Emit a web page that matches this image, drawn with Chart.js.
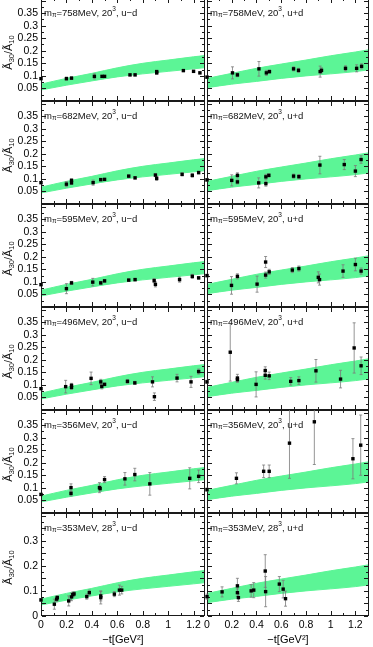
<!doctype html>
<html lang="en">
<head>
<meta charset="UTF-8" />
<title>A30/A10 vs -t</title>
<script src="https://cdn.jsdelivr.net/npm/chart.js"></script>
<style>
  html, body { margin: 0; padding: 0; background: #fff; }
  #fig { position: relative; width: 373px; height: 647px; overflow: hidden; }
  #fig canvas { position: absolute; }
</style>
</head>
<body>
<div id="fig"></div>
<script>
const FONT = "'Liberation Sans', Arial, Helvetica, sans-serif"
const GREEN = 'rgb(92, 245, 150)'

// panel labels, top to bottom
const masses = ['758', '682', '595', '496', '356', '353']
const volumes = ['20', '20', '20', '20', '20', '28']
const flavors = ['u\u2212d', 'u+d']

const bandT = [0, 0.2, 0.4, 0.6, 0.8, 1.0, 1.2, 1.31]
const bandUdLow = [0.044, 0.063, 0.08, 0.096, 0.108, 0.118, 0.128, 0.134]
const bandUdHigh = [0.067, 0.09, 0.11, 0.132, 0.15, 0.163, 0.176, 0.182]
const bandUpdLow = [0.053, 0.067, 0.078, 0.09, 0.1, 0.108, 0.117, 0.124]
const bandUpdHigh = [0.09, 0.11, 0.13, 0.147, 0.163, 0.18, 0.195, 0.204]

// lattice points: T = -t [GeV^2], R = ratio, E = error
const ud758T = [0, 0.2, 0.24, 0.42, 0.48, 0.5, 0.7, 0.74, 0.91, 0.91, 1.12, 1.2, 1.25]
const ud758R = [0.089, 0.089, 0.091, 0.098, 0.098, 0.098, 0.104, 0.104, 0.117, 0.112, 0.121, 0.118, 0.112]
const ud758E = [0.004, 0.006, 0.005, 0.01, 0.004, 0.004, 0.004, 0.004, 0.005, 0.005, 0.004, 0.004, 0.004]
const upd758T = [0, 0.206, 0.246, 0.42, 0.48, 0.505, 0.7, 0.74, 0.915, 0.926, 1.12, 1.21, 1.25]
const upd758R = [0.095, 0.112, 0.104, 0.128, 0.112, 0.117, 0.128, 0.122, 0.117, 0.122, 0.13, 0.13, 0.138]
const upd758E = [0.004, 0.024, 0.007, 0.029, 0.01, 0.006, 0.008, 0.008, 0.022, 0.01, 0.01, 0.014, 0.01]

const ud682T = [0, 0.2, 0.24, 0.24, 0.41, 0.47, 0.5, 0.69, 0.74, 0.9, 0.91, 1.11, 1.19, 1.24]
const ud682R = [0.085, 0.079, 0.094, 0.084, 0.085, 0.097, 0.098, 0.111, 0.104, 0.115, 0.102, 0.118, 0.114, 0.125]
const ud682E = [0.004, 0.01, 0.006, 0.006, 0.01, 0.005, 0.004, 0.004, 0.004, 0.006, 0.008, 0.006, 0.007, 0.005]
const upd682T = [0, 0.2, 0.246, 0.246, 0.418, 0.476, 0.476, 0.5, 0.7, 0.743, 0.913, 1.11, 1.2, 1.246]
const upd682R = [0.096, 0.094, 0.114, 0.088, 0.084, 0.108, 0.081, 0.114, 0.111, 0.109, 0.155, 0.157, 0.131, 0.177]
const upd682E = [0.005, 0.022, 0.01, 0.008, 0.02, 0.01, 0.01, 0.006, 0.008, 0.008, 0.035, 0.02, 0.022, 0.015]

const ud595T = [0, 0.2, 0.24, 0.407, 0.47, 0.5, 0.69, 0.74, 0.89, 0.9, 1.09, 1.19, 1.24]
const ud595R = [0.089, 0.073, 0.096, 0.099, 0.096, 0.104, 0.107, 0.109, 0.105, 0.09, 0.109, 0.122, 0.116]
const ud595E = [0.004, 0.02, 0.006, 0.015, 0.006, 0.005, 0.005, 0.005, 0.008, 0.01, 0.01, 0.008, 0.005]
const upd595T = [0, 0.198, 0.246, 0.405, 0.474, 0.474, 0.503, 0.69, 0.743, 0.9, 0.91, 1.1, 1.2, 1.246]
const upd595R = [0.125, 0.086, 0.122, 0.091, 0.179, 0.127, 0.14, 0.147, 0.153, 0.118, 0.109, 0.143, 0.169, 0.143]
const upd595E = [0.005, 0.035, 0.01, 0.032, 0.022, 0.012, 0.01, 0.01, 0.01, 0.022, 0.022, 0.025, 0.025, 0.012]

const ud496T = [0, 0.194, 0.24, 0.24, 0.394, 0.47, 0.478, 0.5, 0.68, 0.738, 0.877, 0.892, 1.07, 1.18, 1.24]
const ud496R = [0.085, 0.093, 0.098, 0.09, 0.126, 0.112, 0.094, 0.102, 0.114, 0.108, 0.112, 0.053, 0.127, 0.112, 0.153]
const ud496E = [0.004, 0.025, 0.008, 0.008, 0.025, 0.01, 0.01, 0.005, 0.007, 0.006, 0.02, 0.015, 0.015, 0.022, 0.01]
const upd496T = [0, 0.188, 0.246, 0.246, 0.397, 0.471, 0.471, 0.503, 0.677, 0.743, 0.881, 1.08, 1.19, 1.246]
const upd496R = [0.112, 0.23, 0.127, 0.121, 0.102, 0.157, 0.138, 0.136, 0.114, 0.117, 0.156, 0.123, 0.247, 0.176]
const upd496E = [0.006, 0.115, 0.015, 0.01, 0.05, 0.015, 0.015, 0.015, 0.015, 0.015, 0.045, 0.035, 0.1, 0.035]

const ud356T = [0, 0.236, 0.236, 0.46, 0.465, 0.5, 0.66, 0.738, 0.856, 1.17, 1.24]
const ud356R = [0.074, 0.101, 0.078, 0.101, 0.097, 0.133, 0.136, 0.153, 0.116, 0.138, 0.146]
const ud356E = [0.004, 0.015, 0.01, 0.02, 0.01, 0.012, 0.025, 0.025, 0.045, 0.042, 0.025]
const upd356T = [0, 0.238, 0.458, 0.503, 0.667, 0.868, 1.18, 1.243]
const upd356R = [0.093, 0.138, 0.166, 0.166, 0.278, 0.363, 0.216, 0.27]
const upd356E = [0.006, 0.022, 0.025, 0.025, 0.14, 0.17, 0.08, 0.12]

const ud353T = [0, 0.105, 0.123, 0.128, 0.218, 0.24, 0.25, 0.26, 0.36, 0.38, 0.47, 0.47, 0.577, 0.617, 0.635]
const ud353R = [0.064, 0.047, 0.067, 0.073, 0.06, 0.076, 0.085, 0.088, 0.077, 0.093, 0.073, 0.08, 0.087, 0.103, 0.103]
const ud353E = [0.005, 0.02, 0.01, 0.008, 0.02, 0.015, 0.01, 0.008, 0.01, 0.01, 0.025, 0.02, 0.01, 0.02, 0.015]
const upd353T = [0, 0.122, 0.246, 0.246, 0.254, 0.357, 0.378, 0.471, 0.474, 0.585, 0.616, 0.635]
const upd353R = [0.077, 0.096, 0.12, 0.093, 0.073, 0.1, 0.103, 0.179, 0.097, 0.127, 0.107, 0.069]
const upd353E = [0.01, 0.02, 0.03, 0.015, 0.015, 0.025, 0.03, 0.065, 0.06, 0.03, 0.035, 0.03]

const rows = [
	[[ud758T, ud758R, ud758E], [upd758T, upd758R, upd758E]],
	[[ud682T, ud682R, ud682E], [upd682T, upd682R, upd682E]],
	[[ud595T, ud595R, ud595E], [upd595T, upd595R, upd595E]],
	[[ud496T, ud496R, ud496E], [upd496T, upd496R, upd496E]],
	[[ud356T, ud356R, ud356E], [upd356T, upd356R, upd356E]],
	[[ud353T, ud353R, ud353E], [upd353T, upd353R, upd353E]]
]

// page layout (px)
const rowBottoms = [101, 204, 307, 410, 513, 616]
const ROW_H = 103
const PAD = 12

Chart.defaults.font.family = FONT
Chart.defaults.color = '#000'

const fig = document.getElementById('fig')

// frame, inward ticks and error bars go between the band and the points
function decor(row, col, pts) {
	const [ts, rs, es] = pts
	return {
		id: 'decor',
		beforeDatasetDraw(chart, args) {
			if (args.index !== 0) return
			const { ctx, chartArea: a, scales: { x, y } } = chart
			const L = Math.round(a.left), R = Math.round(a.right) - 1
			const T = Math.round(a.top), B = Math.round(a.bottom) - 1
			ctx.save()
			ctx.fillStyle = '#1a1a1a'
			ctx.fillRect(L, T, R - L + 1, 1)
			ctx.fillRect(L, B, R - L + 1, 1)
			ctx.fillRect(L, T, 1, B - T + 1)
			ctx.fillRect(R, T, 1, B - T + 1)
			for (let i = 0; i * 0.1 <= x.max + 1e-9; i++) {
				const px = Math.round(x.getPixelForValue(i * 0.1))
				const len = i % 2 === 0 ? 4 : 2
				ctx.fillRect(px, B - len, 1, len)
				ctx.fillRect(px, T + 1, 1, len)
			}
			for (let j = 0; j * 0.025 <= y.max + 1e-9; j++) {
				const py = Math.round(y.getPixelForValue(j * 0.025))
				const len = j % 2 === 0 ? 4 : 2
				ctx.fillRect(L + 1, py, len, 1)
				ctx.fillRect(R - len, py, len, 1)
			}

			ctx.beginPath()
			ctx.rect(a.left - 4, a.top, a.right - a.left + 8, a.bottom - a.top)
			ctx.clip()
			ctx.strokeStyle = '#7a7a7a'
			ctx.lineWidth = 0.8
			ctx.beginPath()
			ts.forEach((t, i) => {
				const px = x.getPixelForValue(t)
				const lo = y.getPixelForValue(rs[i] - es[i])
				const hi = y.getPixelForValue(rs[i] + es[i])
				ctx.moveTo(px, lo); ctx.lineTo(px, hi)
				ctx.moveTo(px - 1.5, lo); ctx.lineTo(px + 1.5, lo)
				ctx.moveTo(px - 1.5, hi); ctx.lineTo(px + 1.5, hi)
			})
			ctx.stroke()
			ctx.restore()
		},
		afterDraw(chart) {
			const { ctx, chartArea: a, scales: { y } } = chart
			ctx.save()
			// panel label
			ctx.fillStyle = '#111'
			ctx.textBaseline = 'middle'
			let tx = a.left + 3
			const ty = y.getPixelForValue(0.35)
			const parts = [
				['m', 9.5, 0], ['\u03c0', 6.5, 2],
				['=' + masses[row] + 'MeV, ' + volumes[row], 9.5, 0], ['3', 6.5, -3.5],
				[', ' + flavors[col], 9.5, 0]
			]
			parts.forEach(([s, size, dy]) => {
				ctx.font = size + 'px ' + FONT
				ctx.fillText(s, tx, ty + dy)
				tx += ctx.measureText(s).width
			})

			// y axis title, left column only
			if (col === 0) {
				const yt = [['\u00c3', 11, 0], ['30', 7.5, 2.5], ['/\u00c3', 11, 0], ['10', 7.5, 2.5]]
				ctx.translate(9, (a.top + a.bottom) / 2 + 3)
				ctx.rotate(-Math.PI / 2)
				let w = 0
				yt.forEach(([s, size]) => { ctx.font = size + 'px ' + FONT; w += ctx.measureText(s).width })
				let ox = -w / 2
				yt.forEach(([s, size, dy]) => {
					ctx.font = size + 'px ' + FONT
					ctx.fillText(s, ox, dy)
					ox += ctx.measureText(s).width
				})
			}
			ctx.restore()
		}
	}
}

function makePanel(row, col) {
	const isLeft = col === 0
	const isBottom = row === rows.length - 1
	const pts = rows[row][col]
	const low = isLeft ? bandUdLow : bandUpdLow
	const high = isLeft ? bandUdHigh : bandUpdHigh

	const plotTop = rowBottoms[row] - ROW_H
	const cLeft = isLeft ? 0 : 197
	const cTop = plotTop - PAD
	const cW = isLeft ? 215 : 176
	const cH = isBottom ? 647 - cTop : ROW_H + 2 * PAD

	const canvas = document.createElement('canvas')
	canvas.width = cW
	canvas.height = cH
	canvas.style.left = cLeft + 'px'
	canvas.style.top = cTop + 'px'
	fig.appendChild(canvas)

	const xAxis = {
		type: 'linear',
		min: 0,
		max: isLeft ? 1.29 : 1.31,
		display: isBottom,
		grid: { display: false, drawTicks: false },
		border: { display: false },
		ticks: {
			stepSize: 0.2,
			includeBounds: false,
			padding: 3,
			maxRotation: 0,
			font: { size: 10.5 },
			callback: v => String(+v.toFixed(2))
		},
		title: {
			display: true,
			text: '\u2212t[GeV\u00b2]',
			font: { size: 11 },
			padding: { top: 0, bottom: 0 }
		}
	}
	if (isBottom) xAxis.afterFit = s => { s.height = 31 }

	const yAxis = {
		min: 0,
		max: 0.41,
		display: isLeft,
		grid: { display: false, drawTicks: false },
		border: { display: false },
		ticks: {
			stepSize: 0.05,
			includeBounds: false,
			padding: 3,
			font: { size: 10.5 },
			callback: v => String(+v.toFixed(2))
		},
		afterBuildTicks: s => {
			s.ticks = s.ticks.filter(t => t.value < 0.39 && (isBottom || t.value > 0.01))
		}
	}
	if (isLeft) yAxis.afterFit = s => { s.width = 41 }

	new Chart(canvas, {
		type: 'line',
		data: {
			datasets: [
				{
					data: pts[0].map((t, i) => ({ x: t, y: pts[1][i] })),
					showLine: false,
					pointStyle: 'rect',
					pointRadius: 2.4,
					pointBackgroundColor: '#000',
					pointBorderWidth: 0,
					clip: { left: 5, right: 5, top: 0, bottom: 0 }
				},
				{
					data: bandT.map((t, i) => ({ x: t, y: low[i] })),
					borderColor: GREEN,
					borderWidth: 1,
					pointRadius: 0,
					fill: false,
					cubicInterpolationMode: 'monotone'
				},
				{
					data: bandT.map((t, i) => ({ x: t, y: high[i] })),
					borderColor: GREEN,
					backgroundColor: GREEN,
					borderWidth: 1,
					pointRadius: 0,
					fill: '-1',
					cubicInterpolationMode: 'monotone'
				}
			]
		},
		options: {
			responsive: false,
			animation: false,
			events: [],
			layout: {
				padding: { left: isLeft ? 0 : 10, right: isLeft ? 10 : 1, top: PAD, bottom: isBottom ? 0 : PAD }
			},
			plugins: { legend: { display: false }, tooltip: { enabled: false } },
			scales: { x: xAxis, y: yAxis }
		},
		plugins: [decor(row, col, pts)]
	})
}

rows.forEach((r, row) => {
	makePanel(row, 0)
	makePanel(row, 1)
})
</script>
</body>
</html>
